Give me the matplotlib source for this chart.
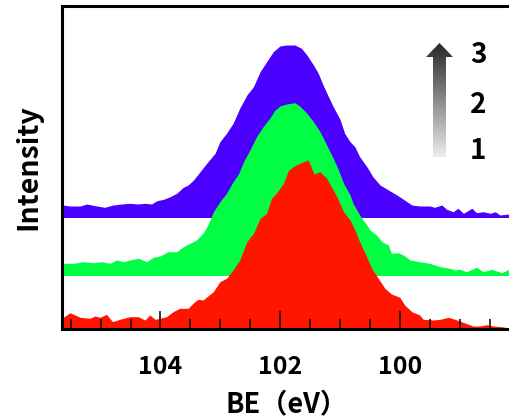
import numpy as np
import matplotlib
matplotlib.use("Agg")
import matplotlib.pyplot as plt
from matplotlib.colors import LinearSegmentedColormap
from matplotlib.patches import Polygon

# ---------------- data ----------------
red_be = [105.62, 105.51, 105.34, 105.18, 105.09, 105.01, 104.90, 104.80, 104.68, 104.51,
          104.37, 104.26, 104.18, 104.09, 104.01, 103.90, 103.79, 103.68, 103.54, 103.43,
          103.37, 103.29, 103.23, 103.12, 103.01, 102.90, 102.79, 102.68, 102.56, 102.45,
          102.34, 102.23, 102.15, 102.06, 101.95, 101.87, 101.79, 101.68, 101.54, 101.51,
          101.44, 101.34, 101.23, 101.12, 101.06, 100.95, 100.84, 100.76, 100.68, 100.59,
          100.48, 100.37, 100.26, 100.15, 100.01, 99.93, 99.81, 99.68, 99.62, 99.45,
          99.34, 99.20, 99.09, 98.94, 98.79, 98.68, 98.56, 98.45, 98.31, 98.19]
red_int = [11.7, 16.3, 11.7, 10.7, 13.0, 11.7, 14.7, 7.3, 9.7, 12.3,
           12.3, 9.0, 14.0, 9.7, 10.7, 12.3, 17.3, 20.7, 20.7, 27.3,
           29.7, 29.0, 32.0, 37.3, 47.3, 50.7, 59.0, 69.0, 87.3, 95.7,
           110.7, 115.7, 130.7, 136.3, 145.7, 158.3, 162.3, 165.7, 169.0, 165.0,
           155.0, 157.3, 150.7, 139.0, 132.3, 117.3, 109.0, 99.0, 87.3, 75.7,
           60.7, 50.7, 40.7, 35.0, 31.7, 24.0, 17.3, 14.0, 9.7, 9.0,
           9.7, 11.7, 9.7, 6.3, 3.0, 3.0, 4.3, 3.0, 2.3, 1.0]
red_base = 0.0

green_be = [105.63, 105.45, 105.29, 105.12, 104.98, 104.84, 104.73, 104.62, 104.51, 104.37,
            104.23, 104.12, 104.01, 103.87, 103.73, 103.62, 103.51, 103.40, 103.29, 103.21,
            103.12, 103.01, 102.90, 102.79, 102.70, 102.62, 102.51, 102.40, 102.29, 102.18,
            102.09, 102.01, 101.90, 101.76, 101.68, 101.56, 101.45, 101.34, 101.23, 101.12,
            101.04, 100.95, 100.84, 100.79, 100.68, 100.56, 100.51, 100.40, 100.31, 100.20,
            100.15, 100.04, 99.95, 99.84, 99.68, 99.51, 99.34, 99.18, 99.09, 99.01,
            98.90, 98.73, 98.62, 98.48, 98.31, 98.19]
green_int = [65.7, 65.7, 67.3, 66.3, 67.3, 65.7, 69.0, 67.3, 69.0, 70.7,
             67.3, 71.7, 73.0, 77.3, 77.3, 82.3, 85.7, 89.0, 96.0, 104.0,
             117.0, 127.3, 135.7, 147.3, 155.0, 166.7, 179.0, 192.3, 202.3, 210.7,
             219.0, 223.0, 225.0, 226.3, 223.0, 215.7, 207.3, 197.3, 184.0, 170.7,
             160.0, 146.0, 134.0, 125.7, 114.0, 104.0, 99.0, 94.0, 87.3, 84.0,
             75.7, 76.3, 74.0, 69.0, 67.3, 65.7, 62.3, 60.7, 59.0, 59.7,
             57.3, 61.7, 57.3, 59.7, 56.3, 59.7]
green_base = 53.5

purple_be = [105.63, 105.51, 105.34, 105.23, 105.06, 104.93, 104.79, 104.65, 104.51, 104.37,
             104.26, 104.15, 104.06, 103.95, 103.84, 103.73, 103.62, 103.54, 103.45, 103.34,
             103.23, 103.09, 103.01, 102.90, 102.79, 102.68, 102.56, 102.45, 102.34, 102.23,
             102.12, 102.01, 101.90, 101.76, 101.65, 101.56, 101.45, 101.37, 101.29, 101.20,
             101.12, 101.01, 100.93, 100.84, 100.76, 100.68, 100.56, 100.46, 100.34, 100.20,
             100.06, 99.95, 99.81, 99.68, 99.51, 99.43, 99.31, 99.23, 99.12, 99.04,
             98.95, 98.81, 98.73, 98.62, 98.50, 98.42, 98.34, 98.19]
purple_int = [124.0, 123.0, 123.0, 125.0, 123.0, 121.7, 124.0, 125.0, 125.7, 125.0,
              125.7, 125.0, 128.3, 129.7, 132.3, 135.7, 141.7, 144.0, 149.0, 157.3,
              165.7, 175.7, 187.3, 195.7, 205.7, 220.7, 234.0, 242.3, 257.3, 267.3,
              277.3, 283.0, 284.0, 284.0, 280.7, 274.0, 264.0, 255.7, 244.0, 232.3,
              222.3, 210.0, 195.7, 187.3, 182.3, 172.3, 162.3, 152.3, 144.0, 139.0,
              134.0, 129.7, 124.0, 123.0, 123.0, 121.7, 124.0, 119.7, 117.3, 120.7,
              115.7, 120.7, 116.3, 117.3, 115.7, 117.3, 114.0, 115.0]
purple_base = 111.5

major_ticks = [104, 102, 100]
tick_labels = ["104", "102", "100"]
legend_labels = ["3", "2", "1"]

# ---------------- fonts ----------------
cjk = "Noto Sans CJK JP"

W, H = 509, 418
fig = plt.figure(figsize=(W / 100, H / 100), dpi=100)
ax = fig.add_axes([61.7 / W, (H - 329) / H, 1 - 61.7 / W, 323 / H])

ax.fill_between(purple_be, purple_base, purple_int, color="#4b00ff", lw=0, zorder=1)
ax.fill_between(green_be, green_base, green_int, color="#00ff44", lw=0, zorder=1.1)
ax.fill_between(red_be, red_base, red_int, color="#ff1500", lw=0, zorder=1.2)

ax.set_xlim(105.647, 98.19)
ax.set_ylim(0, 323)
ax.set_yticks([])
ax.set_xticks(major_ticks)
ax.set_xticklabels(tick_labels, fontfamily=cjk, fontweight="bold", fontsize=18)
ax.set_xticks(np.arange(98.5, 105.6, 0.5), minor=True)
ax.tick_params(axis="x", which="major", direction="in", length=13, width=1.1, pad=18.5)
ax.tick_params(axis="x", which="minor", direction="in", length=7.2, width=1.1)
for s in ["left", "bottom", "top"]:
    ax.spines[s].set_linewidth(2.2)
ax.spines["right"].set_visible(False)

fig.text(225 / W, 1 - 412 / H, "BE（eV）", fontfamily=cjk, fontweight="bold",
         fontsize=19.5, ha="left", va="baseline")
fig.text(28 / W, 1 - 167 / H, "Intensity", fontfamily=cjk, fontweight="bold",
         fontsize=20.5, rotation=90, ha="center", va="center")

# gradient arrow
aax = fig.add_axes([420 / W, (H - 160) / H, 40 / W, 120 / H])
aax.set_xlim(420, 460)
aax.set_ylim(160, 40)
aax.axis("off")
cmap = LinearSegmentedColormap.from_list("g", ["#222222", "#f2f2f2"])
grad = np.linspace(0, 1, 256).reshape(-1, 1)
im = aax.imshow(grad, cmap=cmap, extent=(420, 460, 160, 40), aspect="auto", interpolation="bilinear")
poly = Polygon([(433, 157), (446, 157), (446, 57), (453, 57), (439.5, 43),
                (426, 57), (433, 57)], closed=True, transform=aax.transData,
               facecolor="none", edgecolor="none")
aax.add_patch(poly)
im.set_clip_path(poly)
aax.set_xlim(420, 460)
aax.set_ylim(160, 40)

for lab, yc in zip(legend_labels, [55, 105, 151]):
    fig.text(478 / W, 1 - yc / H, lab, fontfamily=cjk, fontweight="bold",
             fontsize=20, ha="center", va="center")

fig.savefig("out.png", dpi=100)
